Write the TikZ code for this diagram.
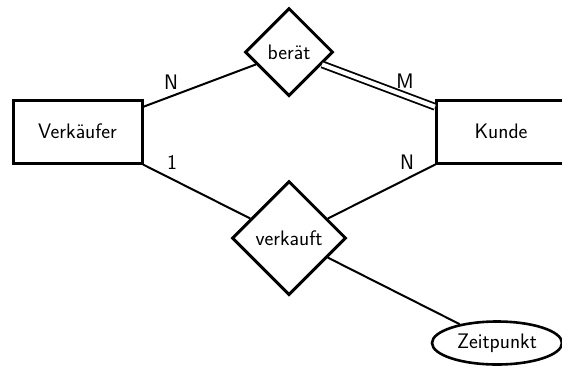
\documentclass[tikz,border=0pt]{standalone}
\usepackage{fontspec}
\usetikzlibrary{shapes.geometric}
\begin{document}
\begin{tikzpicture}[x=1pt,y=-1pt,
  every node/.style={font=\fontsize{21}{25}\selectfont\sffamily},
  entity/.style={draw,line width=3pt,rectangle,minimum width=129pt,minimum height=63pt,inner sep=0pt},
  relation/.style={draw,line width=3pt,diamond,aspect=1,inner sep=0pt},
  attrib/.style={draw,line width=2.6pt,ellipse,minimum width=130pt,minimum height=43pt,inner sep=0pt},
  conn/.style={line width=2pt},
  dconn/.style={line width=1.8pt,double,double distance=4.2pt},
  card/.style={inner sep=0pt}]
\useasboundingbox (0,0) rectangle (562,365);
\clip (0,0) rectangle (562,365);
\fill[white] (0,0) rectangle (562,365);
\node[entity] (V) at (77.5,131.5) {Verkäufer};
\node[entity] (K) at (501,131.5) {Kunde};
\node[relation,minimum width=88pt,minimum height=88pt] (B) at (289,52) {berät};
\node[relation,minimum width=114pt,minimum height=114pt] (VK) at (289,238) {verkauft};
\node[attrib] (Z) at (497,343) {Zeitpunkt};
\draw[conn] (V) -- (B);
\draw[dconn] (B) -- (K);
\draw[conn] (V) -- (VK);
\draw[conn] (VK) -- (K);
\draw[conn] (VK) -- (Z);
\node[card] (n1) at (171,82) {N};
\node[card] (m1) at (405,81) {M};
\node[card] (o1) at (172,162) {1};
\node[card] (n2) at (407,162) {N};
\end{tikzpicture}
\end{document}
